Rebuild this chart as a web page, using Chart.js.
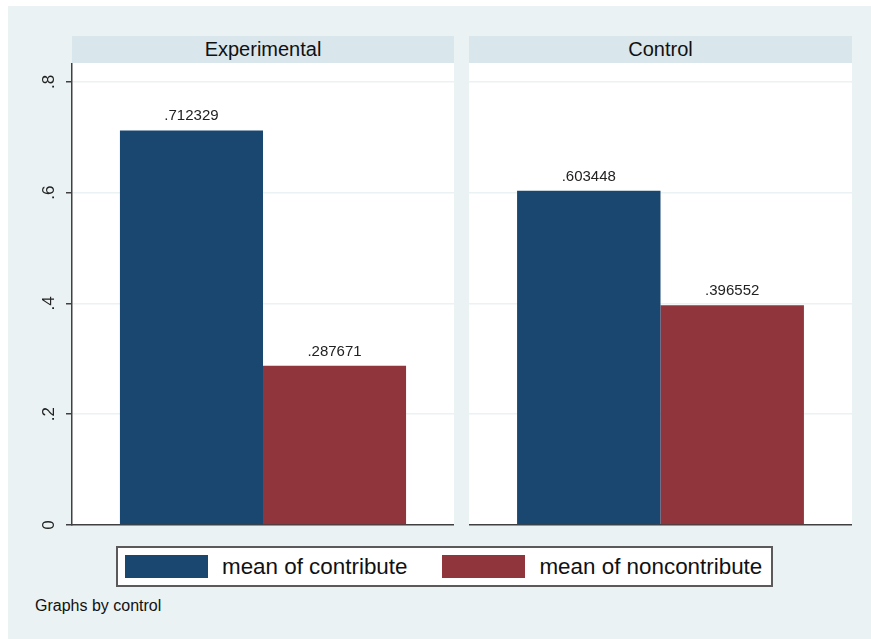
<!DOCTYPE html>
<html>
<head>
<meta charset="utf-8">
<script src="https://cdn.jsdelivr.net/npm/chart.js@4/dist/chart.umd.min.js"></script>
<style>
  html, body { margin: 0; padding: 0; background: #fff; }
  body { width: 871px; height: 639px; position: relative; overflow: hidden;
         font-family: "Liberation Sans", Arial, sans-serif; color: #111; }
  #bg { position: absolute; left: 8px; top: 6px; right: 0; bottom: 0; background: #EAF2F3; }
  .strip { position: absolute; top: 36px; height: 27px; line-height: 27px; background: #D9E6EB;
           text-align: center; font-size: 20px; color: #111; }
  canvas { position: absolute; }
  #legend { position: absolute; left: 116px; top: 546px; width: 657px; height: 41px; box-sizing: border-box;
            border: 2px solid #5a5a5a; background: #fff; display: flex; align-items: center; padding-left: 7px; }
  .sw { flex: 0 0 83px; height: 23px; margin-right: 14px; }
  .lt { flex: 0 0 auto; font-size: 22.4px; margin-right: 35px; white-space: nowrap; }
  .lt:last-child { margin-right: 0; }
  #note { position: absolute; left: 35px; top: 597px; font-size: 16px; color: #111; }
</style>
</head>
<body>
<div id="bg"></div>
<div class="strip" id="strip0" style="left:72px;width:382px"></div>
<div class="strip" id="strip1" style="left:469px;width:383px"></div>
<canvas id="panel0" width="434" height="480" style="left:20px;top:63px"></canvas>
<canvas id="panel1" width="383" height="480" style="left:469px;top:63px"></canvas>
<div id="legend"></div>
<div id="note"></div>

<script>
// ---- data ----
const panels = ['Experimental', 'Control'];
const seriesNames = ['mean of contribute', 'mean of noncontribute'];
const contribute = [0.712329, 0.603448];
const noncontribute = [0.287671, 0.396552];
const yTickValues = [0, 0.2, 0.4, 0.6, 0.8];
const yTickLabels = ['0', '.2', '.4', '.6', '.8'];
const noteText = 'Graphs by control';

const colors = ['#1A476F', '#90353B'];
const FONT = '"Liberation Sans", Arial, sans-serif';

// white plot region
const plotBg = {
  id: 'plotBg',
  beforeDraw(chart) {
    const { ctx, chartArea: a } = chart;
    ctx.save();
    ctx.fillStyle = '#fff';
    ctx.fillRect(a.left, a.top, a.right - a.left, a.bottom - a.top);
    ctx.restore();
  }
};

// value labels above bars, stata style ".712329"
const barLabels = {
  id: 'barLabels',
  afterDatasetsDraw(chart) {
    const ctx = chart.ctx;
    ctx.save();
    ctx.font = '15px ' + FONT;
    ctx.fillStyle = '#222';
    ctx.textAlign = 'center';
    ctx.textBaseline = 'alphabetic';
    chart.data.datasets.forEach((ds, di) => {
      chart.getDatasetMeta(di).data.forEach((bar, i) => {
        const txt = String(ds.data[i]).replace(/^0(?=\.)/, '');
        ctx.fillText(txt, bar.x, bar.y - 10);
      });
    });
    ctx.restore();
  }
};

function noPad(s) {
  s.paddingTop = 0; s.paddingBottom = 0; s.paddingLeft = 0; s.paddingRight = 0;
}

function makePanel(i) {
  const showAxis = i === 0;
  document.getElementById('strip' + i).textContent = panels[i];
  return new Chart(document.getElementById('panel' + i), {
    type: 'bar',
    data: {
      labels: [''],
      datasets: [
        { label: seriesNames[0], data: [contribute[i]], backgroundColor: colors[0] },
        { label: seriesNames[1], data: [noncontribute[i]], backgroundColor: colors[1] }
      ]
    },
    options: {
      responsive: false,
      animation: false,
      layout: { padding: 0 },
      datasets: { bar: { barPercentage: 1, categoryPercentage: 0.749, borderWidth: 0 } },
      plugins: { legend: { display: false }, tooltip: { enabled: false } },
      scales: {
        x: {
          ticks: { display: false },
          grid: { display: false, drawTicks: false },
          border: { display: true, color: '#404040', width: 1.5 },
          afterFit: s => { s.height = 18; noPad(s); }
        },
        y: {
          min: 0,
          max: 0.834,
          afterBuildTicks: s => { s.ticks = yTickValues.map(v => ({ value: v })); },
          afterFit: s => { s.width = showAxis ? 52 : 0; noPad(s); },
          ticks: {
            display: showAxis,
            minRotation: 90,
            maxRotation: 90,
            crossAlign: 'center',
            padding: 10,
            color: '#222',
            font: { family: FONT, size: 17 },
            callback: (v, idx) => yTickLabels[idx]
          },
          grid: {
            color: c => (c.tick && c.tick.value === 0) ? 'rgba(0,0,0,0)' : '#EAF2F3',
            lineWidth: 1.5,
            drawTicks: showAxis,
            tickLength: 6,
            tickColor: '#404040',
            tickWidth: 1.5
          },
          border: { display: showAxis, color: '#404040', width: 1.5 }
        }
      }
    },
    plugins: [plotBg, barLabels]
  });
}

panels.forEach((p, i) => makePanel(i));

// legend + note
const legend = document.getElementById('legend');
legend.innerHTML = seriesNames.map((n, k) =>
  `<div class="sw" style="background:${colors[k]}"></div><span class="lt">${n}</span>`).join('');
document.getElementById('note').textContent = noteText;
</script>
</body>
</html>
